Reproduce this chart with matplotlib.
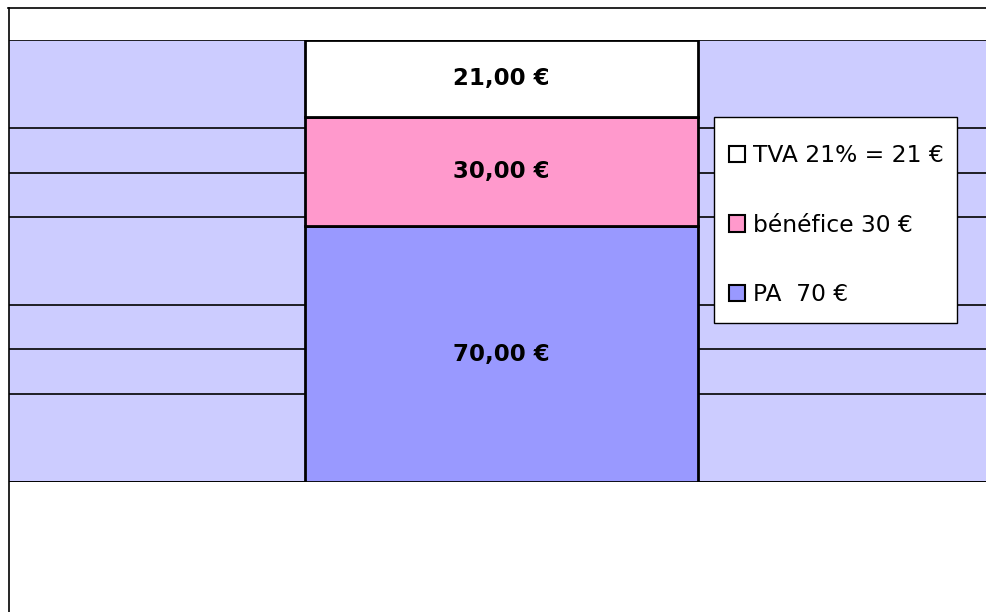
import matplotlib.pyplot as plt
from matplotlib.patches import Patch, Rectangle
from matplotlib.lines import Line2D

plt.rcParams['font.family'] = ['DejaVu Sans']

# stacked parts, bottom to top
parts = ["PA  70 €", "bénéfice 30 €", "TVA 21% = 21 €"]
values = [70, 30, 21]
labels = ["70,00 €", "30,00 €", "21,00 €"]
colors = ["#9999FF", "#FF99CC", "#FFFFFF"]
grid_values = [24.2, 36.3, 48.4, 72.6, 84.7, 96.8, 121]

W, H = 986, 612
fig = plt.figure(figsize=(W / 100, H / 100), dpi=100)

# outer chart frame (only top and left visible)
fig.add_artist(Line2D([8 / W, 1], [1 - 8 / H, 1 - 8 / H], color="black", lw=1.2, transform=fig.transFigure))
fig.add_artist(Line2D([8.5 / W, 8.5 / W], [0, 1 - 8 / H], color="black", lw=1.2, transform=fig.transFigure))

ax = fig.add_axes([9 / W, (H - 482) / H, (W - 9) / W, 442 / H])
ax.set_facecolor("#CCCCFF")
ax.set_xlim(-0.752, 0.740)
ax.set_ylim(0, 121)

for g in grid_values:
    ax.axhline(g, color="black", lw=1.2, zorder=1)
ax.axhline(0, color="black", lw=1.4, zorder=1)

bottom = 0
for part, v, lab, c in zip(parts, values, labels, colors):
    ax.bar(0, v, width=0.6, bottom=bottom, color=c, edgecolor="black", linewidth=2, zorder=3)
    ax.text(0, bottom + v / 2, lab, ha="center", va="center", fontsize=16.5, fontweight="bold", zorder=4)
    bottom += v

for s in ax.spines.values():
    s.set_visible(False)
ax.set_xticks([])
ax.set_yticks([])

# legend box drawn separately so its size matches the original
fig.add_artist(Rectangle((714 / W, 1 - 323 / H), 243 / W, 206 / H, transform=fig.transFigure,
                         facecolor="white", edgecolor="black", lw=1.0, zorder=4))

handles = [Patch(facecolor=c, edgecolor="black", linewidth=1.5) for c in colors]
leg = ax.legend(handles[::-1], parts[::-1], loc="upper left",
                bbox_to_anchor=(729 / W, 1 - 144 / H), bbox_transform=fig.transFigure,
                fontsize=16.8, frameon=False, borderpad=0, labelspacing=2.0,
                handlelength=0.69, handleheight=0.69, handletextpad=0.34,
                borderaxespad=0)
leg.set_zorder(5)
fig.add_artist(leg)

fig.savefig("out.png", dpi=100)
